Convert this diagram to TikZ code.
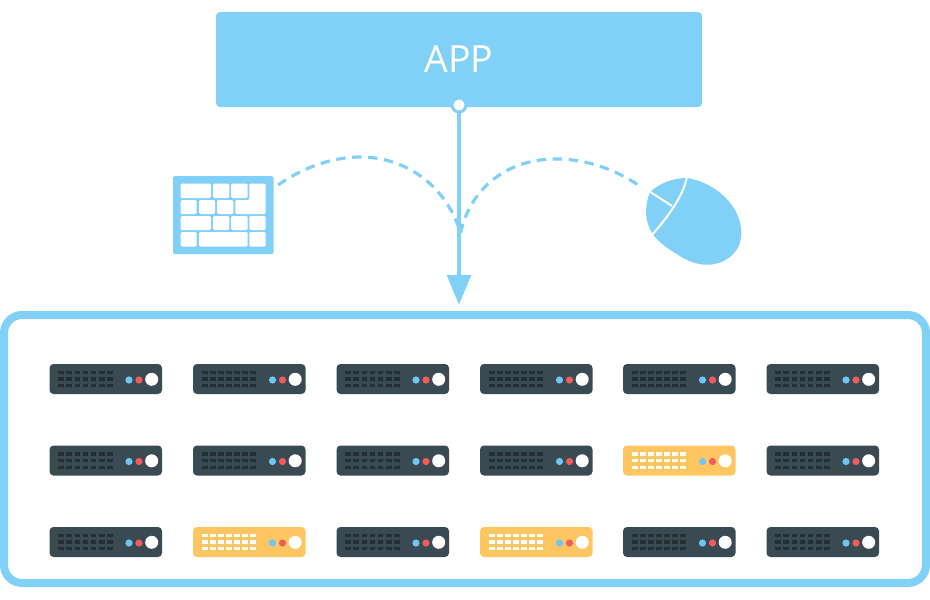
\documentclass[tikz,border=0pt]{standalone}
\usepackage{fontspec}
\setmainfont{Open Sans}
\usetikzlibrary{arrows.meta}
\definecolor{skyb}{HTML}{81D0F7}
\definecolor{darkrack}{HTML}{3A4A52}
\definecolor{darkcell}{HTML}{232E35}
\definecolor{yellowrack}{HTML}{FEC660}
\definecolor{ledblue}{HTML}{6EC6F5}
\definecolor{ledred}{HTML}{EE5C5C}
\tikzset{
  appbox/.style={fill=skyb,rounded corners=4pt,minimum width=486pt,minimum height=95pt,inner sep=0pt,text=white,font=\fontsize{37.5}{40}\selectfont},
  portdot/.style={circle,fill=white,draw=skyb,line width=3pt,minimum size=14pt,inner sep=0pt},
  rackbox/.style={draw=skyb,line width=8pt,fill=white,rounded corners=18pt,minimum width=922pt,minimum height=268pt,inner sep=0pt},
  kbdbox/.style={fill=skyb,rounded corners=1.5pt,minimum width=100.5pt,minimum height=78pt,inner sep=0pt},
  flow/.style={draw=skyb,line width=4.6pt,-{Triangle[length=30pt,width=23.4pt]}},
  inputline/.style={draw=skyb,line width=3.2pt,dash pattern=on 9.5pt off 6.5pt},
  kkey/.style={fill=white,rounded corners=1.3pt},
  pics/server/.style n args={2}{code={
    \fill[#1,rounded corners=4pt] (0,0) rectangle (112.5,30);
    \foreach \cx in {0,...,6}\foreach \cy in {0,1,2}
      \fill[#2] ({8.8+8.1*\cx},{6.7+6.65*\cy}) rectangle ++(5.7,3.3);
    \fill[ledblue] (79.5,16) circle[radius=3.6];
    \fill[ledred] (89.5,16) circle[radius=3.6];
    \fill[white] (102.2,15.3) circle[radius=6.5];
  }}
}
\begin{document}
\begin{tikzpicture}[x=1pt,y=-1pt]
\useasboundingbox (0,0) rectangle (930,600);
% container
\node[rackbox] (rack) at (465,449) {};
% servers
\foreach \c/\px in {1/49.5,2/193,3/336.5,4/480,5/623,6/766.5}
  \foreach \r/\py in {1/364,2/445.5,3/527}{
    \pgfmathtruncatemacro{\k}{10*\c+\r}
    \ifnum\k=52 \def\yy{1}\else\ifnum\k=23 \def\yy{1}\else\ifnum\k=43 \def\yy{1}\else\def\yy{0}\fi\fi\fi
    \if\yy1
      \pic at (\px,\py) {server={yellowrack}{white}};
    \else
      \pic at (\px,\py) {server={darkrack}{darkcell}};
    \fi
  }
% app
\node[appbox] (app) at (459,59.5) {APP};
\coordinate (arrowend) at (459,305);
\draw[flow] (app.south) -- (arrowend);
\node[portdot] (port) at (459,105) {};
% keyboard
\node[kbdbox] (kbd) at (223.25,215) {};
\foreach \a/\b/\c/\d in {
  180.7/183.5/211/198, 213/183.5/229.3/198, 231/183.5/247.7/198,
  180.7/200/196.7/214, 199/200/215/214, 217/200/233.3/214,
  180.7/216/211/230, 213/216/229.3/230, 231/216/247.7/230, 249.3/216/265.7/230,
  180.7/232/196.7/246.7, 199/232/247.7/246.7, 249.3/232/265.7/246.7}
  \fill[kkey] (\a,\b) rectangle (\c,\d);
\fill[kkey] (249.3,183.5) -- (265.7,183.5) -- (265.7,214) -- (235.3,214) -- (235.3,200) -- (249.3,200) -- cycle;
% mouse
\fill[skyb] (687,178) .. controls (708,181) and (729,196) .. (737,214)
  .. controls (745,232) and (742,250) .. (727,259)
  .. controls (713,268) and (695,266) .. (680,256)
  .. controls (668,249) and (658,242) .. (652,233)
  .. controls (645,222) and (644,207) .. (650,192)
  .. controls (660,183) and (673,178) .. (687,178) -- cycle;
\draw[white,line width=2pt] (687,177) .. controls (683,195) and (672,212) .. (652,235);
\draw[white,line width=2pt] (648,190.5) -- (672,206);
% dashed input lines
\coordinate (kbdout) at (278,185);
\coordinate (kbdtop) at (360,157);
\coordinate (merge) at (460.5,233);
\coordinate (mousetop) at (556,159);
\coordinate (mouseout) at (641,187);
\draw[inputline] (kbdout) .. controls (305,166) and (335,157) .. (kbdtop)
  .. controls (410,157) and (448,190) .. (merge);
\draw[inputline] (merge) .. controls (470,190) and (505,159) .. (mousetop)
  .. controls (590,159) and (620,172) .. (mouseout);
\end{tikzpicture}
\end{document}
